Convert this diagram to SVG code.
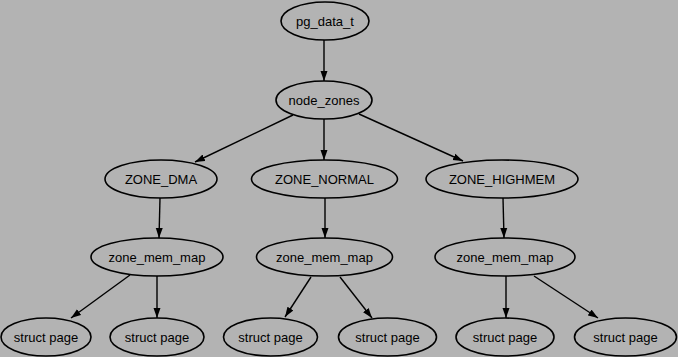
<svg xmlns="http://www.w3.org/2000/svg" width="678" height="357" viewBox="0 0 678 357">
<style>
.n ellipse{fill:none;stroke:#000;stroke-width:1.6}
.n text{font-family:"Liberation Sans",Arial,sans-serif;font-size:13px;fill:#000;text-anchor:middle}
.e line{stroke:#000;stroke-width:1.4;marker-end:url(#ah)}
</style>
<defs>
<marker id="ah" markerUnits="userSpaceOnUse" markerWidth="10" markerHeight="8" refX="10" refY="4" orient="auto">
<path d="M0,0.5 L10,4 L0,7.5 z" fill="#000"/>
</marker>
</defs>
<rect width="678" height="357" fill="#b3b3b3"/>
<g class="e" id="edges">
<line x1="324" y1="40" x2="324" y2="81"/>
<line x1="293" y1="115" x2="195" y2="162"/>
<line x1="324" y1="119" x2="324" y2="160"/>
<line x1="359" y1="114" x2="463" y2="161"/>
<line x1="160" y1="198" x2="159" y2="238"/>
<line x1="325" y1="198" x2="325" y2="238"/>
<line x1="503" y1="198" x2="504" y2="238"/>
<line x1="130" y1="275" x2="71" y2="318"/>
<line x1="157" y1="276" x2="157" y2="318"/>
<line x1="311" y1="277" x2="285" y2="317"/>
<line x1="340" y1="277" x2="372" y2="318"/>
<line x1="506" y1="276" x2="506" y2="318"/>
<line x1="534" y1="276" x2="598" y2="318"/>
</g>
<g class="n" id="pg_data_t"><ellipse cx="325" cy="21" rx="44" ry="19"/><text x="325" y="25.5">pg_data_t</text></g>
<g class="n" id="node_zones"><ellipse cx="324" cy="100" rx="48" ry="19"/><text x="324" y="104.5">node_zones</text></g>
<g class="n" id="zone_dma"><ellipse cx="161" cy="179" rx="56" ry="19"/><text x="161" y="183.5">ZONE_DMA</text></g>
<g class="n" id="zone_normal"><ellipse cx="324.5" cy="179" rx="73" ry="19"/><text x="324.5" y="183.5">ZONE_NORMAL</text></g>
<g class="n" id="zone_highmem"><ellipse cx="502" cy="179" rx="76" ry="19"/><text x="502" y="183.5">ZONE_HIGHMEM</text></g>
<g class="n" id="zmm_dma"><ellipse cx="157" cy="257" rx="66" ry="19"/><text x="157" y="261.5">zone_mem_map</text></g>
<g class="n" id="zmm_normal"><ellipse cx="324.5" cy="257" rx="68" ry="19"/><text x="324.5" y="261.5">zone_mem_map</text></g>
<g class="n" id="zmm_highmem"><ellipse cx="505" cy="257" rx="70" ry="19"/><text x="505" y="261.5">zone_mem_map</text></g>
<g class="n" id="sp1"><ellipse cx="46" cy="337" rx="45" ry="19"/><text x="46" y="341.5">struct page</text></g>
<g class="n" id="sp2"><ellipse cx="157" cy="337" rx="47" ry="19"/><text x="157" y="341.5">struct page</text></g>
<g class="n" id="sp3"><ellipse cx="270.5" cy="337" rx="47" ry="19"/><text x="270.5" y="341.5">struct page</text></g>
<g class="n" id="sp4"><ellipse cx="387.5" cy="337" rx="49" ry="19"/><text x="387.5" y="341.5">struct page</text></g>
<g class="n" id="sp5"><ellipse cx="505" cy="337" rx="49" ry="19"/><text x="505" y="341.5">struct page</text></g>
<g class="n" id="sp6"><ellipse cx="625.5" cy="337" rx="51" ry="19"/><text x="625.5" y="341.5">struct page</text></g>
</svg>
